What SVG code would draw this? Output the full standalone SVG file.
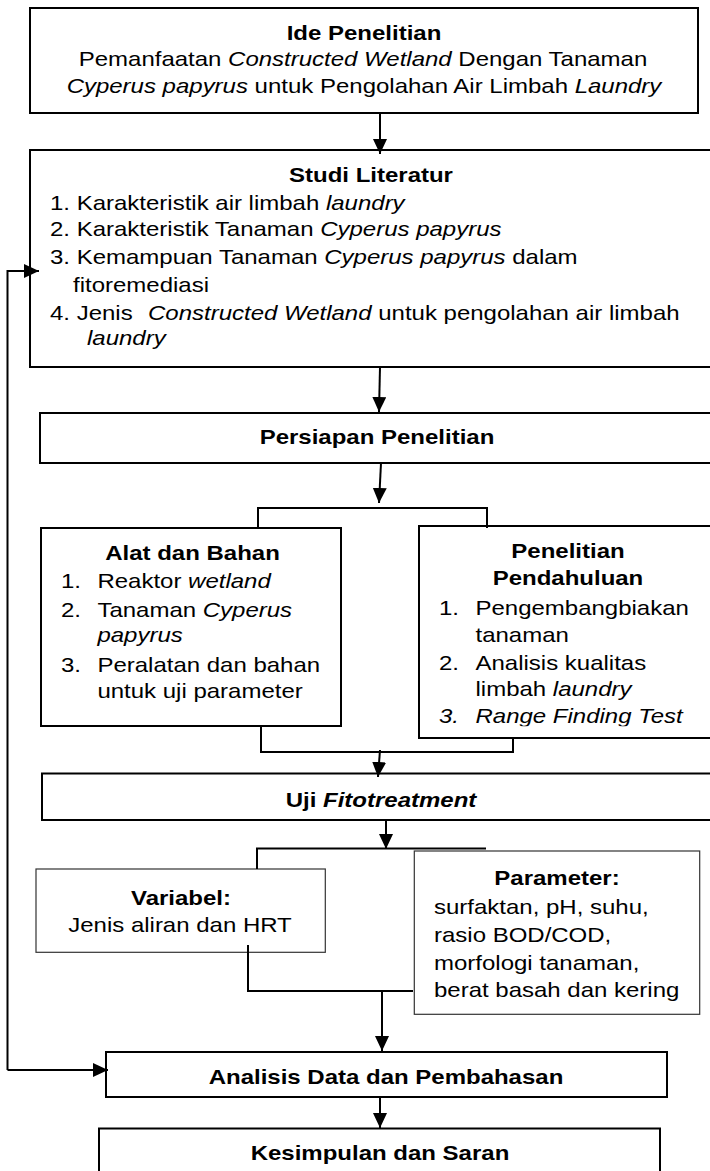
<svg xmlns="http://www.w3.org/2000/svg" width="710" height="1171" viewBox="0 0 710 1171">
<style>
text{font-family:"Liberation Sans",Arial,sans-serif;font-size:20px;fill:#000}
.b{font-weight:bold}
.i{font-style:italic}
.c{text-anchor:middle}
.box{fill:#fff;stroke:#000;stroke-width:2}
.thin{fill:#fff;stroke:#333;stroke-width:1.2}
.ln{fill:none;stroke:#000;stroke-width:2}
</style>
<defs>
<marker id="ah" markerUnits="userSpaceOnUse" markerWidth="16" markerHeight="15" refX="15" refY="7" orient="auto">
<path d="M0,0 L15,7 L0,14 z" fill="#000"/>
</marker>
<clipPath id="clipRFT"><rect x="300" y="700" width="400" height="26.3"/></clipPath>
</defs>
<rect width="710" height="1171" fill="#fff"/>

<g id="ide">
<rect class="box" x="30" y="8" width="668" height="105"/>
<g transform="scale(1.2 1)">
<text class="b c" x="303.33" y="40">Ide Penelitian</text>
<text class="c" x="302.5" y="66">Pemanfaatan <tspan class="i">Constructed Wetland</tspan> Dengan Tanaman</text>
<text class="c" x="303.33" y="93"><tspan class="i">Cyperus papyrus</tspan> untuk Pengolahan Air Limbah <tspan class="i">Laundry</tspan></text>
</g>
</g>

<g id="studi">
<rect class="box" x="30" y="150" width="700" height="217"/>
<g transform="scale(1.2 1)">
<text class="b c" x="309.17" y="182">Studi Literatur</text>
<text x="41.67" y="210">1. Karakteristik air limbah <tspan class="i">laundry</tspan></text>
<text x="41.67" y="236">2. Karakteristik Tanaman <tspan class="i">Cyperus papyrus</tspan></text>
<text x="41.67" y="264">3. Kemampuan Tanaman <tspan class="i">Cyperus papyrus</tspan> dalam</text>
<text x="60.83" y="292">fitoremediasi</text>
<text x="41.67" y="320">4. Jenis<tspan class="i" x="123.33">Constructed Wetland</tspan> untuk pengolahan air limbah</text>
<text class="i" x="72.5" y="345">laundry</text>
</g>
</g>

<g id="persiapan">
<rect class="box" x="40" y="413" width="690" height="50"/>
<g transform="scale(1.2 1)">
<text class="b c" x="314.17" y="444">Persiapan Penelitian</text>
</g>
</g>

<g id="alat">
<rect class="box" x="41" y="528" width="300" height="198"/>
<g transform="scale(1.2 1)">
<text class="b c" x="160.42" y="560">Alat dan Bahan</text>
<text x="50.83" y="588">1.</text><text x="81.17" y="588">Reaktor <tspan class="i">wetland</tspan></text>
<text x="50.83" y="617">2.</text><text x="81.17" y="617">Tanaman <tspan class="i">Cyperus</tspan></text>
<text class="i" x="81.17" y="642">papyrus</text>
<text x="50.83" y="672">3.</text><text x="81.17" y="672">Peralatan dan bahan</text>
<text x="81.17" y="698">untuk uji parameter</text>
</g>
</g>

<g id="pendahuluan">
<rect class="box" x="419" y="526" width="311" height="212"/>
<g transform="scale(1.2 1)">
<text class="b c" x="473.33" y="558">Penelitian</text>
<text class="b c" x="473.33" y="585">Pendahuluan</text>
<text x="365.83" y="615">1.</text><text x="396.25" y="615">Pengembangbiakan</text>
<text x="396.25" y="642">tanaman</text>
<text x="365.83" y="670">2.</text><text x="396.25" y="670">Analisis kualitas</text>
<text x="396.25" y="696">limbah <tspan class="i">laundry</tspan></text>
<g clip-path="url(#clipRFT)">
<text class="i" x="365.83" y="723">3.</text><text class="i" x="396.25" y="723">Range Finding Test</text>
</g>
</g>
</g>

<g id="uji">
<rect class="box" x="42" y="773.5" width="688" height="46.5"/>
<g transform="scale(1.2 1)">
<text class="b c" x="317.5" y="807">Uji <tspan class="i">Fitotreatment</tspan></text>
</g>
</g>

<g id="variabel">
<rect class="thin" x="36" y="869" width="289.3" height="83.3"/>
<g transform="scale(1.2 1)">
<text class="b c" x="150.83" y="905">Variabel:</text>
<text class="c" x="150" y="932">Jenis aliran dan HRT</text>
</g>
</g>

<g id="parameter">
<rect class="thin" x="414.3" y="851" width="285.4" height="163.3"/>
<g transform="scale(1.2 1)">
<text class="b c" x="464.17" y="885">Parameter:</text>
<text x="361.67" y="914">surfaktan, pH, suhu,</text>
<text x="361.67" y="942">rasio BOD/COD,</text>
<text x="361.67" y="970">morfologi tanaman,</text>
<text x="361.67" y="997">berat basah dan kering</text>
</g>
</g>

<g id="analisis">
<rect class="box" x="106" y="1052" width="561" height="45"/>
<g transform="scale(1.2 1)">
<text class="b c" x="321.67" y="1084">Analisis Data dan Pembahasan</text>
</g>
</g>

<g id="kesimpulan">
<rect class="box" x="99" y="1128.5" width="561" height="60"/>
<g transform="scale(1.2 1)">
<text class="b c" x="316.67" y="1160">Kesimpulan dan Saran</text>
</g>
</g>

<g id="connectors">
<path class="ln" d="M380,113 L380,154" marker-end="url(#ah)"/>
<path class="ln" d="M380,367 L379,412" marker-end="url(#ah)"/>
<path class="ln" d="M381,463 L379,503" marker-end="url(#ah)"/>
<path class="ln" d="M258,528 V508 H487 V528"/>
<path class="ln" d="M261,726 V752 H513 V738"/>
<path class="ln" d="M380,750 L378,777" marker-end="url(#ah)"/>
<path class="ln" d="M386,820 L386,849" marker-end="url(#ah)"/>
<path class="ln" d="M257,869 V848.5 H486"/>
<path class="ln" d="M248,945 V991 H413"/>
<path class="ln" d="M382,991 L382,1051" marker-end="url(#ah)"/>
<path class="ln" d="M380,1097 L380,1128" marker-end="url(#ah)"/>
<path class="ln" d="M7.5,1070 V271 H39" marker-end="url(#ah)"/>
<path class="ln" d="M7.5,1070 H108" marker-end="url(#ah)"/>
</g>
</svg>
